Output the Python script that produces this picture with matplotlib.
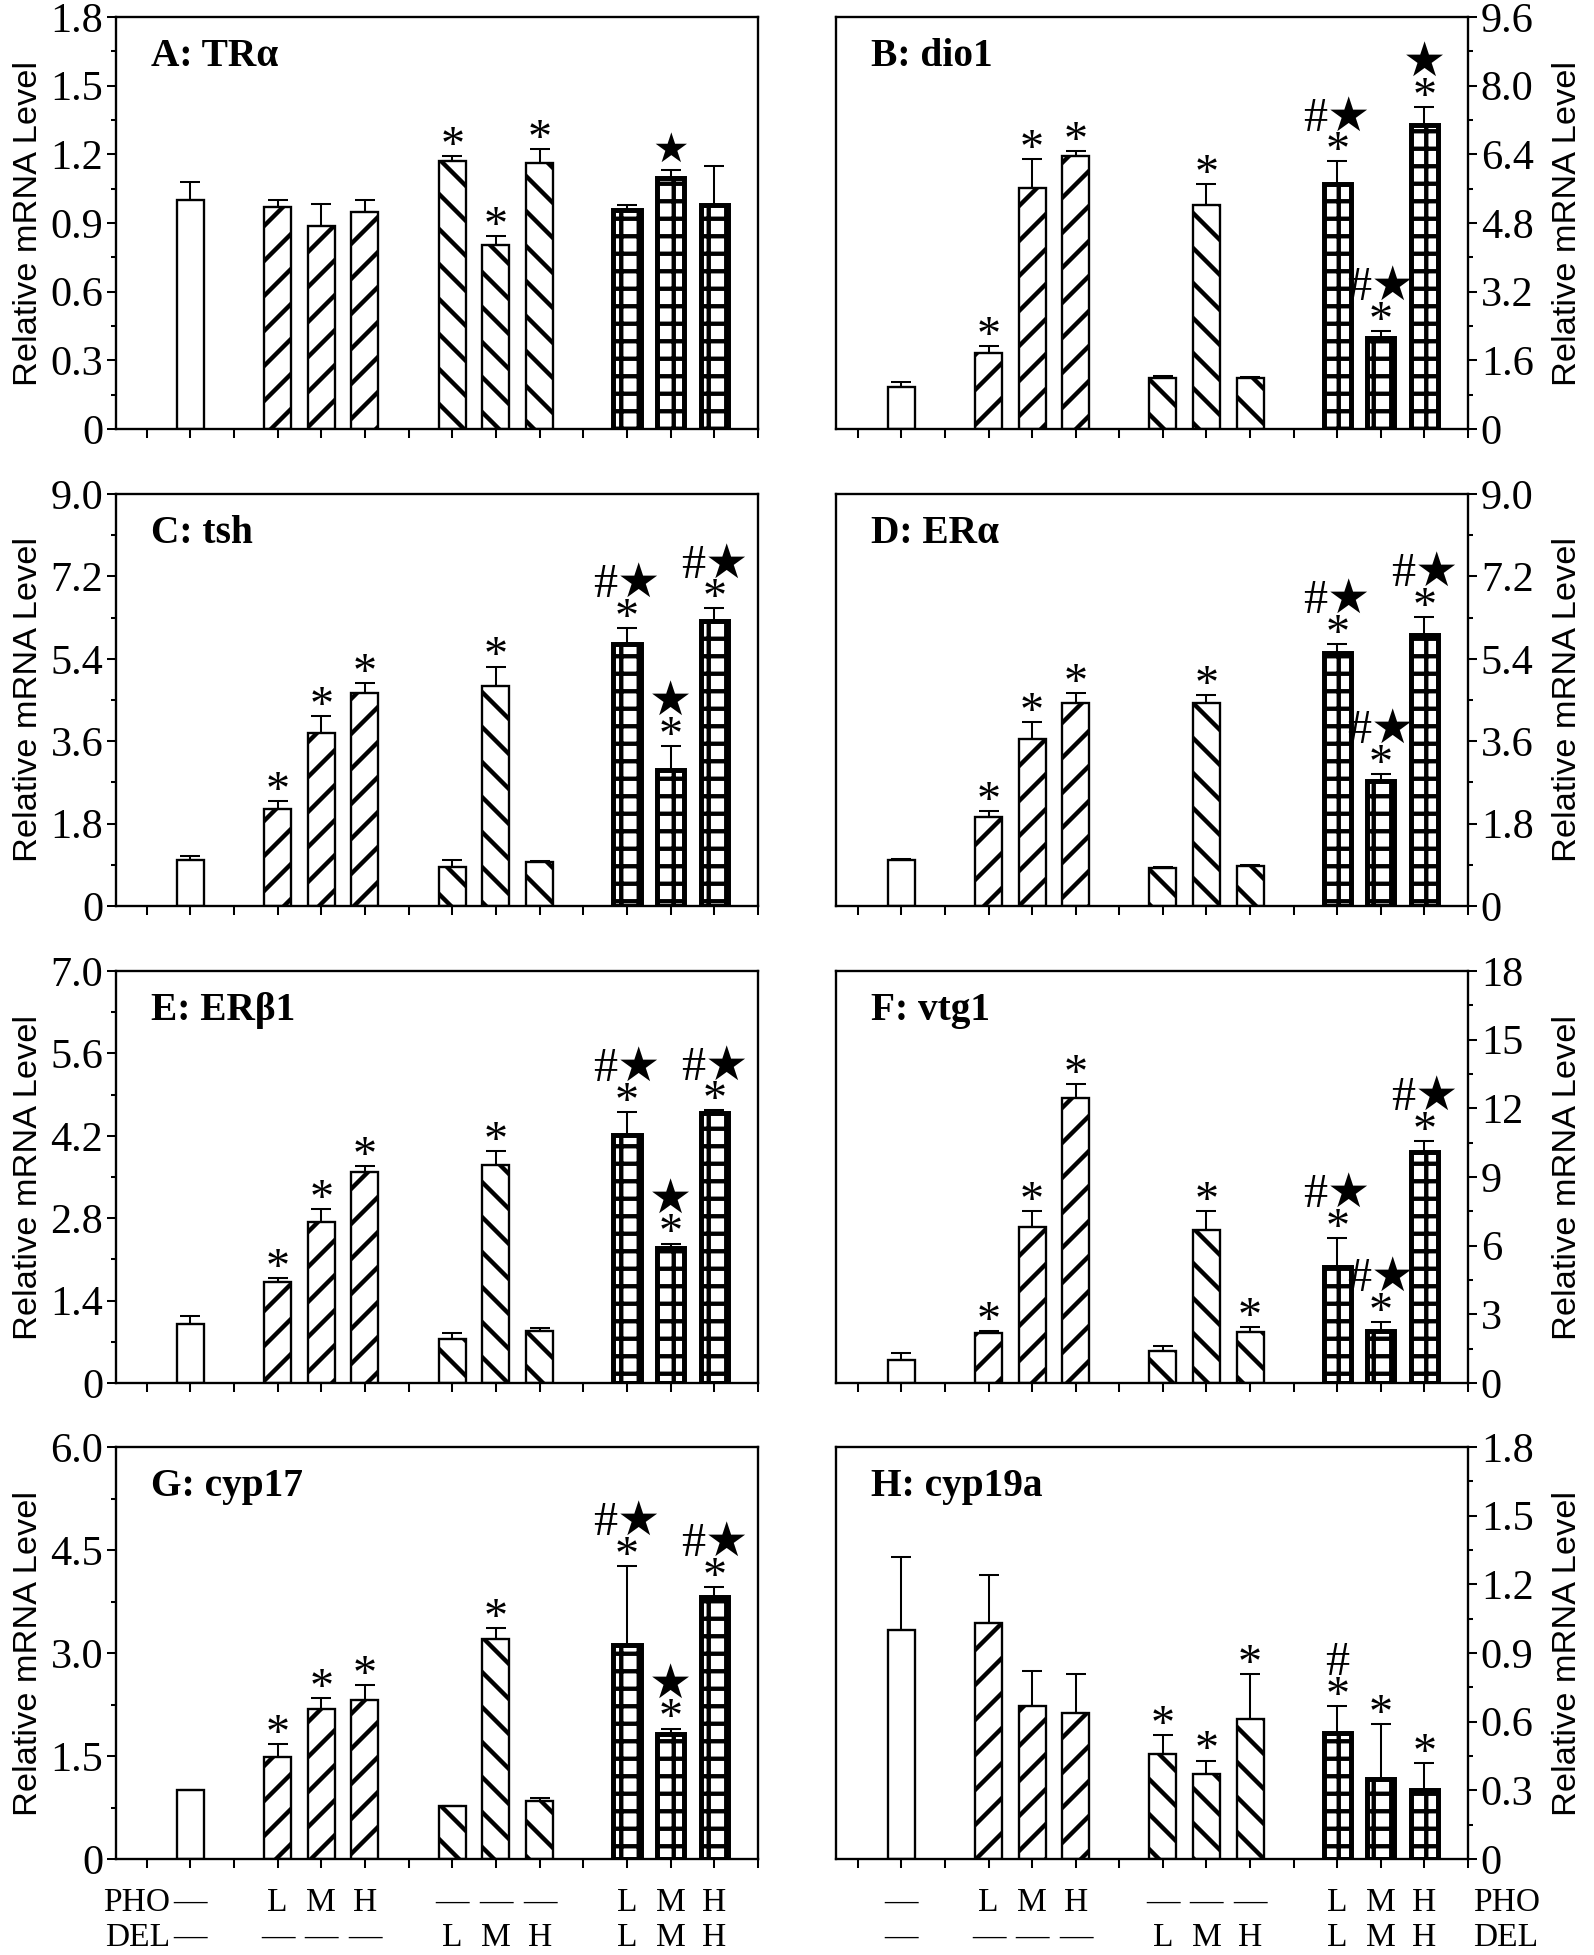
import matplotlib
matplotlib.use("Agg")
import matplotlib.pyplot as plt
import matplotlib.transforms as mtransforms
from matplotlib.ticker import FixedLocator, MultipleLocator

# ---------------- data ----------------
positions = [2, 4, 5, 6, 8, 9, 10, 12, 13, 14]
hatches = ['', '//', '//', '//', '\\\\', '\\\\', '\\\\', '++', '++', '++']

A_mean = [1.00, 0.97, 0.885, 0.946, 1.173, 0.802, 1.163, 0.958, 1.096, 0.977]
A_err = [0.08, 0.03, 0.10, 0.055, 0.02, 0.04, 0.06, 0.02, 0.035, 0.17]
B_mean = [0.99, 1.77, 5.61, 6.37, 1.18, 5.23, 1.18, 5.71, 2.12, 7.09]
B_err = [0.10, 0.16, 0.67, 0.11, 0.06, 0.47, 0.03, 0.53, 0.16, 0.41]
C_mean = [1.00, 2.11, 3.77, 4.65, 0.86, 4.80, 0.97, 5.72, 2.98, 6.23]
C_err = [0.10, 0.19, 0.38, 0.22, 0.14, 0.43, 0.02, 0.35, 0.52, 0.27]
D_mean = [1.01, 1.94, 3.64, 4.44, 0.83, 4.43, 0.88, 5.52, 2.74, 5.92]
D_err = [0.02, 0.14, 0.37, 0.21, 0.02, 0.18, 0.02, 0.20, 0.15, 0.39]
E_mean = [1.00, 1.71, 2.73, 3.58, 0.75, 3.71, 0.88, 4.21, 2.30, 4.59]
E_err = [0.14, 0.08, 0.23, 0.11, 0.10, 0.23, 0.06, 0.40, 0.07, 0.04]
F_mean = [1.00, 2.18, 6.80, 12.46, 1.39, 6.70, 2.24, 5.07, 2.27, 10.09]
F_err = [0.32, 0.09, 0.72, 0.62, 0.22, 0.80, 0.22, 1.28, 0.40, 0.50]
G_mean = [1.00, 1.49, 2.18, 2.32, 0.77, 3.20, 0.85, 3.12, 1.82, 3.81]
G_err = [0.01, 0.19, 0.17, 0.21, 0.005, 0.17, 0.04, 1.15, 0.08, 0.15]
H_mean = [1.00, 1.03, 0.67, 0.64, 0.46, 0.37, 0.61, 0.55, 0.35, 0.30]
H_err = [0.32, 0.21, 0.15, 0.17, 0.08, 0.06, 0.20, 0.12, 0.24, 0.12]

# significance marks stacked above each error bar (bottom line last)
A_sig = ['', '', '', '', '*', '*', '*', '', '★', '']
B_sig = ['', '*', '*', '*', '', '*', '', '#★\n*', '#★\n*', '★\n*']
C_sig = ['', '*', '*', '*', '', '*', '', '#★\n*', '★\n*', '#★\n*']
D_sig = ['', '*', '*', '*', '', '*', '', '#★\n*', '#★\n*', '#★\n*']
E_sig = ['', '*', '*', '*', '', '*', '', '#★\n*', '★\n*', '#★\n*']
F_sig = ['', '*', '*', '*', '', '*', '*', '#★\n*', '#★\n*', '#★\n*']
G_sig = ['', '*', '*', '*', '', '*', '', '#★\n*', '★\n*', '#★\n*']
H_sig = ['', '', '', '', '*', '*', '*', '#\n*', '*', '*']

A_ticks = ['0', '0.3', '0.6', '0.9', '1.2', '1.5', '1.8']
B_ticks = ['0', '1.6', '3.2', '4.8', '6.4', '8.0', '9.6']
C_ticks = ['0', '1.8', '3.6', '5.4', '7.2', '9.0']
D_ticks = ['0', '1.8', '3.6', '5.4', '7.2', '9.0']
E_ticks = ['0', '1.4', '2.8', '4.2', '5.6', '7.0']
F_ticks = ['0', '3', '6', '9', '12', '15', '18']
G_ticks = ['0', '1.5', '3.0', '4.5', '6.0']
H_ticks = ['0', '0.3', '0.6', '0.9', '1.2', '1.5', '1.8']

titles = ['A: TRα', 'B: dio1', 'C: tsh', 'D: ERα', 'E: ERβ1', 'F: vtg1',
          'G: cyp17', 'H: cyp19a']

pho_labels = ['—', 'L', 'M', 'H', '—', '—', '—', 'L', 'M', 'H']
del_labels = ['—', '—', '—', '—', 'L', 'M', 'H', 'L', 'M', 'H']

panels = [
    (A_mean, A_err, A_sig, A_ticks),
    (B_mean, B_err, B_sig, B_ticks),
    (C_mean, C_err, C_sig, C_ticks),
    (D_mean, D_err, D_sig, D_ticks),
    (E_mean, E_err, E_sig, E_ticks),
    (F_mean, F_err, F_sig, F_ticks),
    (G_mean, G_err, G_sig, G_ticks),
    (H_mean, H_err, H_sig, H_ticks),
]

# ---------------- style ----------------
DPI = 210
W, H = 1594, 1955
plt.rcParams['hatch.linewidth'] = 1.5
plt.rcParams['font.family'] = ['Liberation Serif', 'DejaVu Sans']
SERIF = ['Liberation Serif', 'DejaVu Sans']
STARF = ['DejaVu Sans']

fig = plt.figure(figsize=(W / DPI, H / DPI), dpi=DPI)
fig.patch.set_facecolor('white')

col_left = [116, 836]
col_w = [642, 632]
row_top = [17, 494, 971, 1447]
row_h = 412
xlims = [(0.3, 15.0), (0.5, 15.0)]
ylabel_x = [-0.112, 1.133]

TICK_FS = 14.5
LAB_FS = 11.5
MARK_FS = 16.5

for i, (means, errs, sig, tlabels) in enumerate(panels):
    r, c = divmod(i, 2)
    ax = fig.add_axes([col_left[c] / W, 1 - (row_top[r] + row_h) / H,
                       col_w[c] / W, row_h / H])
    for x, m, h in zip(positions, means, hatches):
        grid = h == '++'
        ax.bar(x, m, width=0.62, color='white', edgecolor='black',
               hatch=h, linewidth=1.7 if grid else 0.8, zorder=2)
    ax.errorbar(positions, means, yerr=[[0] * len(errs), errs], fmt='none',
                ecolor='black', elinewidth=0.7, capsize=3.4, capthick=0.7,
                zorder=3)

    tvals = [float(t) for t in tlabels]
    ax.set_ylim(0, tvals[-1])
    ax.set_xlim(*xlims[c])
    ax.yaxis.set_major_locator(FixedLocator(tvals))
    ax.set_yticklabels(tlabels)
    ax.yaxis.set_minor_locator(MultipleLocator((tvals[1] - tvals[0]) / 2))
    ax.xaxis.set_major_locator(FixedLocator(list(range(1, 16))))
    ax.set_xticklabels([])
    for s in ax.spines.values():
        s.set_linewidth(0.8)
    ax.tick_params(axis='both', which='major', direction='out', length=3.2,
                   width=0.7, labelsize=TICK_FS, pad=1.2)
    ax.tick_params(axis='y', which='minor', direction='out', length=1.8,
                   width=0.7)
    if c == 1:
        ax.yaxis.tick_right()
        ax.yaxis.set_label_position('right')
    ax.set_ylabel('Relative mRNA Level', family='Liberation Sans',
                  fontsize=11.8, rotation=90)
    ax.yaxis.set_label_coords(ylabel_x[c], 0.5)
    ax.text(0.055, 0.905, titles[i], transform=ax.transAxes, fontsize=13.5,
            fontweight='bold', va='center', ha='left', family=SERIF)

    # significance marks
    for x, m, e, s in zip(positions, means, errs, sig):
        if not s:
            continue
        top = m + e
        if s == '★':
            ax.annotate(s, (x, top), xytext=(0, 3.0),
                        textcoords='offset points', ha='center',
                        va='baseline', fontsize=MARK_FS - 2.5, family=STARF)
        else:
            ax.annotate(s, (x, top), xytext=(0, -1.0),
                        textcoords='offset points', ha='center',
                        va='baseline', fontsize=MARK_FS, family=SERIF,
                        linespacing=0.7, multialignment='center')

    # treatment labels under the bottom row
    if r == 3:
        trans = mtransforms.blended_transform_factory(ax.transData, ax.transAxes)
        for x, p, d in zip(positions, pho_labels, del_labels):
            ax.text(x, -0.106, p, transform=trans, ha='center', va='center',
                    fontsize=LAB_FS, family=SERIF)
            ax.text(x, -0.19, d, transform=trans, ha='center', va='center',
                    fontsize=LAB_FS, family=SERIF)
        if c == 0:
            ax.text(1.55, -0.106, 'PHO', transform=trans, ha='right',
                    va='center', fontsize=LAB_FS, family=SERIF)
            ax.text(1.55, -0.19, 'DEL', transform=trans, ha='right',
                    va='center', fontsize=LAB_FS, family=SERIF)
        else:
            ax.text(15.12, -0.106, 'PHO', transform=trans, ha='left',
                    va='center', fontsize=LAB_FS, family=SERIF)
            ax.text(15.12, -0.19, 'DEL', transform=trans, ha='left',
                    va='center', fontsize=LAB_FS, family=SERIF)

fig.savefig('out.png', dpi=DPI, facecolor='white')
